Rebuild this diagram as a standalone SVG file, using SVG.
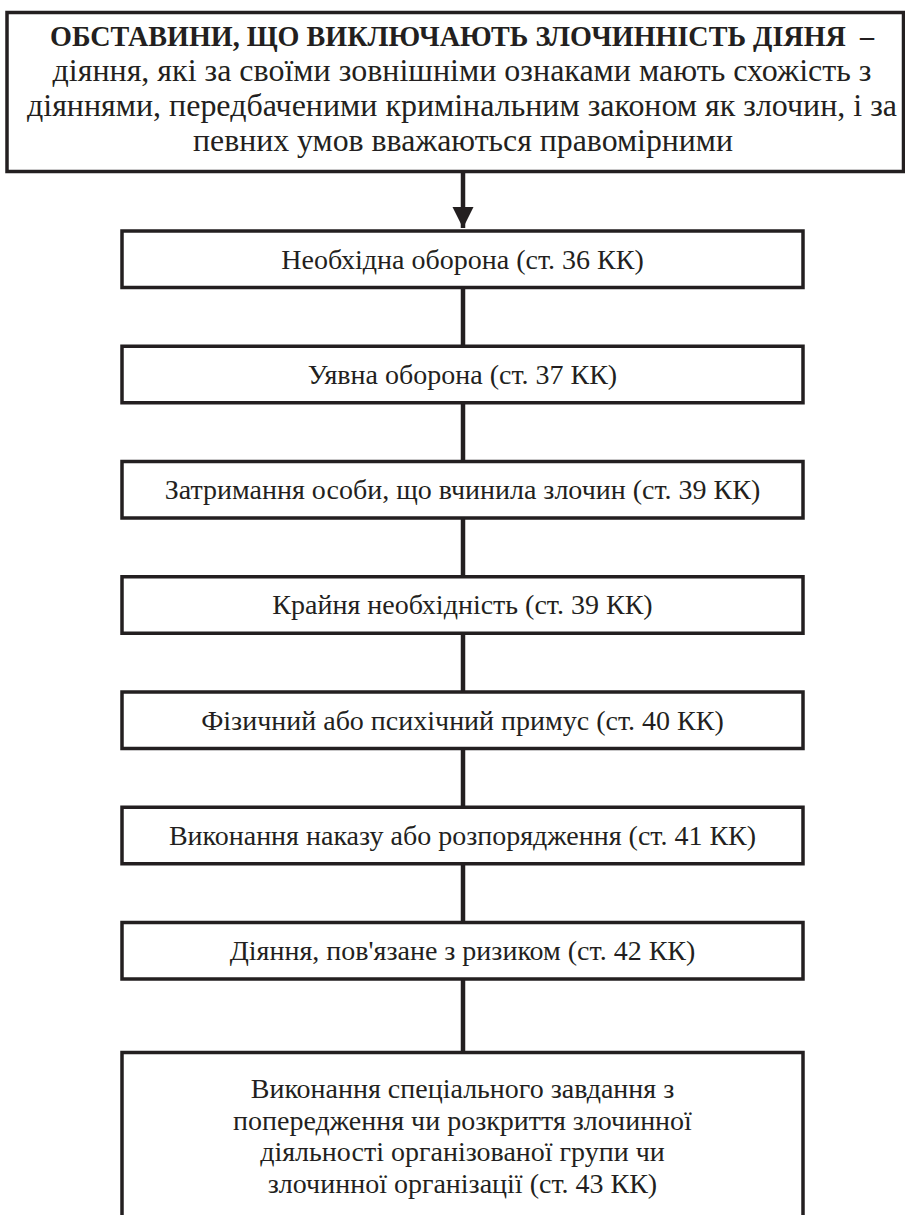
<svg xmlns="http://www.w3.org/2000/svg" width="905" height="1215" viewBox="0 0 905 1215">
<style>
.box{fill:#ffffff;stroke:#231f20;stroke-width:3.5}
.t{font-family:"Liberation Serif","Times New Roman",serif;font-size:28px;fill:#231f20;text-anchor:middle}
.h{font-size:31px}
.b{font-weight:bold;font-size:28.5px}
.c{stroke:#231f20;stroke-width:4.5;fill:none}
</style>
<defs>
<marker id="ah" viewBox="0 0 10 10" refX="10" refY="5" markerWidth="4.7" markerHeight="4.7" markerUnits="strokeWidth" orient="auto">
<path d="M0,0 L10,5 L0,10 z" fill="#231f20"/>
</marker>
</defs>
<rect width="905" height="1215" fill="#ffffff"/>
<g id="connectors">
<line class="c" x1="463" y1="173" x2="463" y2="228" marker-end="url(#ah)"/>
<line class="c" x1="463" y1="288" x2="463" y2="345"/>
<line class="c" x1="463" y1="403" x2="463" y2="460"/>
<line class="c" x1="463" y1="518" x2="463" y2="576"/>
<line class="c" x1="463" y1="633" x2="463" y2="691"/>
<line class="c" x1="463" y1="749" x2="463" y2="806"/>
<line class="c" x1="463" y1="864" x2="463" y2="921"/>
<line class="c" x1="463" y1="980" x2="463" y2="1051"/>
</g>
<g id="top">
<rect class="box" x="7" y="12.5" width="896.5" height="159"/>
<text class="t b" x="462" y="46" xml:space="preserve" textLength="824" lengthAdjust="spacingAndGlyphs">ОБСТАВИНИ, ЩО ВИКЛЮЧАЮТЬ ЗЛОЧИННІСТЬ ДІЯНЯ  –</text>
<text class="t h" x="462" y="81" textLength="819" lengthAdjust="spacingAndGlyphs">діяння, які за своїми зовнішніми ознаками мають схожість з</text>
<text class="t h" x="462" y="116" textLength="870" lengthAdjust="spacingAndGlyphs">діяннями, передбаченими кримінальним законом як злочин, і за</text>
<text class="t h" x="463" y="151" textLength="540" lengthAdjust="spacingAndGlyphs">певних умов вважаються правомірними</text>
</g>
<g id="n1">
<rect class="box" x="122" y="231" width="681" height="56.5"/>
<text class="t" x="462.5" y="269">Необхідна оборона (ст. 36 КК)</text>
</g>
<g id="n2">
<rect class="box" x="122" y="346.25" width="681" height="56.5"/>
<text class="t" x="462.5" y="384">Уявна оборона (ст. 37 КК)</text>
</g>
<g id="n3">
<rect class="box" x="122" y="461.5" width="681" height="56.5"/>
<text class="t" x="462.5" y="499">Затримання особи, що вчинила злочин (ст. 39 КК)</text>
</g>
<g id="n4">
<rect class="box" x="122" y="576.75" width="681" height="56.5"/>
<text class="t" x="462.5" y="614">Крайня необхідність (ст. 39 КК)</text>
</g>
<g id="n5">
<rect class="box" x="122" y="692" width="681" height="56.5"/>
<text class="t" x="462.5" y="730">Фізичний або психічний примус (ст. 40 КК)</text>
</g>
<g id="n6">
<rect class="box" x="122" y="807.25" width="681" height="56.5"/>
<text class="t" x="462.5" y="845">Виконання наказу або розпорядження (ст. 41 КК)</text>
</g>
<g id="n7">
<rect class="box" x="122" y="922.5" width="681" height="56.5"/>
<text class="t" x="462.5" y="960">Діяння, пов'язане з ризиком (ст. 42 КК)</text>
</g>
<g id="n8">
<rect class="box" x="122" y="1052.5" width="681" height="180"/>
<text class="t" x="462.5" y="1098">Виконання спеціального завдання з</text>
<text class="t" x="462.5" y="1129.5">попередження чи розкриття злочинної</text>
<text class="t" x="462.5" y="1161">діяльності організованої групи чи</text>
<text class="t" x="462.5" y="1192.5">злочинної організації (ст. 43 КК)</text>
</g>
</svg>
